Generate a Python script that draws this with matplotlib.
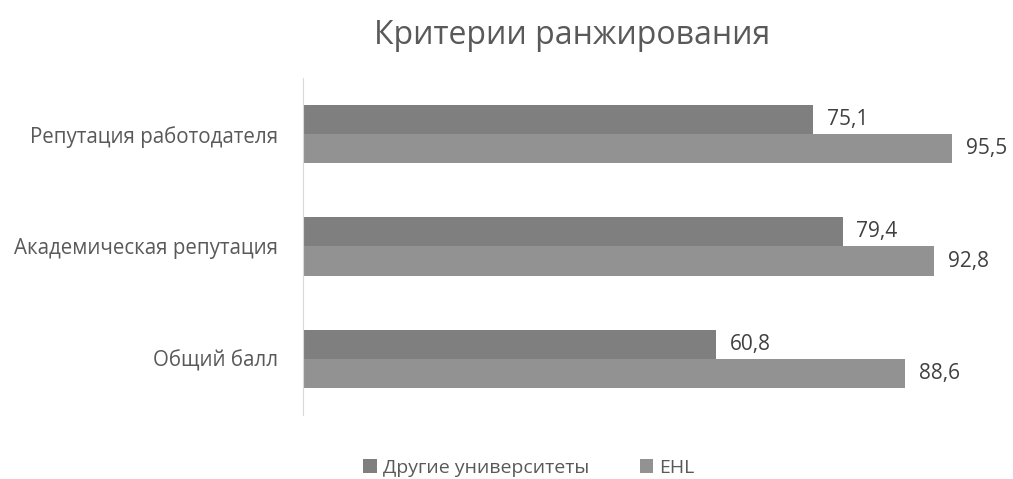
import matplotlib
matplotlib.use("Agg")
import matplotlib.pyplot as plt
import numpy as np

categories = ["Общий балл", "Академическая репутация", "Репутация работодателя"]
others = [60.8, 79.4, 75.1]
ehl = [88.6, 92.8, 95.5]
series_names = ["Другие университеты", "EHL"]
title = "Критерии ранжирования"

plt.rcParams['font.family'] = ['Open Sans', 'DejaVu Sans']
txt = "#595959"
c_dark = "#7f7f7f"
c_light = "#929292"

fig = plt.figure(figsize=(10.13, 4.79), dpi=100)
ax = fig.add_axes([0.299, 0.134, 0.671, 0.703])

y = np.arange(len(categories))
h = 0.26
b1 = ax.barh(y + h/2, others, height=h, color=c_dark, label=series_names[0])
b2 = ax.barh(y - h/2, ehl, height=h, color=c_light, label=series_names[1])

for bars, vals in ((b1, others), (b2, ehl)):
    for bar, v in zip(bars, vals):
        ax.annotate(f"{v:.1f}".replace(".", ","),
                    xy=(bar.get_width(), bar.get_y() + bar.get_height()/2),
                    xytext=(10, 0), textcoords="offset points",
                    va="center", ha="left", fontsize=15, color="#404040")

ax.set_xlim(0, 100)
ax.set_ylim(-0.5, 2.5)
ax.set_yticks(y)
ax.set_yticklabels(categories, fontsize=14.8, color=txt)
ax.tick_params(axis='y', length=0, pad=18)
ax.set_xticks([])
for s in ["top", "right", "bottom"]:
    ax.spines[s].set_visible(False)
ax.spines["left"].set_color("#d9d9d9")

fig.text(0.565, 0.925, title, ha="center", va="center", fontsize=23, color=txt)

leg = fig.legend(handles=[b1, b2], loc="center", bbox_to_anchor=(0.522, 0.023),
                 ncol=2, frameon=False, fontsize=14, handlelength=0.7,
                 handleheight=0.7, handletextpad=0.3, columnspacing=2.6)
for t in leg.get_texts():
    t.set_color(txt)

fig.savefig("out.png", dpi=100)
